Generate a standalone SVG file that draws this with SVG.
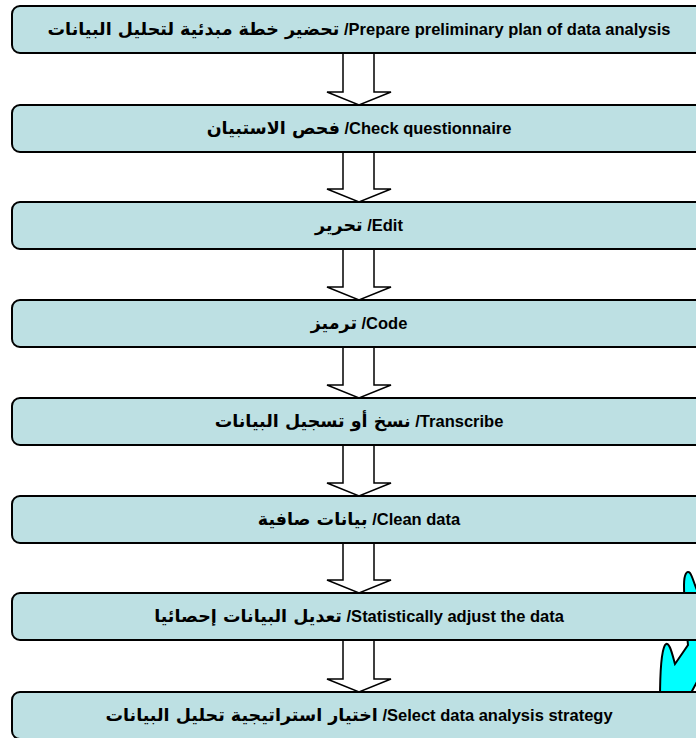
<svg xmlns="http://www.w3.org/2000/svg" width="696" height="738" viewBox="0 0 696 738">
<style>
.box{fill:#BDE0E3;stroke:#000;stroke-width:2}
.arr{fill:#fff;stroke:#000;stroke-width:1.5;stroke-linejoin:miter}
.lbl{font-family:"Liberation Sans","DejaVu Sans",sans-serif;font-weight:bold;font-size:16.5px;fill:#000;text-anchor:middle}
.ar{font-family:"DejaVu Sans",sans-serif;font-size:17.5px}
.blob{fill:#00FFFF;stroke:#000;stroke-width:2}
</style>
<rect width="696" height="738" fill="#fff"/>
<g id="decor">
<path class="blob" d="M660,700 C660,680 661,652 665,645 C669,640 672,653 675,664 L688,645 C686,625 684,600 684,585 C684,574 687,570 690,573 C693,577 695,588 700,596 L700,676 L691,693 Z"/>
</g>
<g id="connectors">
<polygon class="arr" points="343,52 374,52 374,92 391,92 359,105 327,92 343,92"/>
<polygon class="arr" points="343,151 374,151 374,189 391,189 359,202 327,189 343,189"/>
<polygon class="arr" points="343,248 374,248 374,287 391,287 359,300 327,287 343,287"/>
<polygon class="arr" points="343,346 374,346 374,385 391,385 359,398 327,385 343,385"/>
<polygon class="arr" points="343,444 374,444 374,483 391,483 359,496 327,483 343,483"/>
<polygon class="arr" points="343,542 374,542 374,580 391,580 359,593 327,580 343,580"/>
<polygon class="arr" points="343,639 374,639 374,679 391,679 359,692 327,679 343,679"/>
</g>
<g id="n1"><rect class="box" x="12" y="6" width="700" height="47" rx="8"/><text class="lbl" x="359" y="35"><tspan class="ar">تحضير خطة مبدئية لتحليل البيانات</tspan> /Prepare preliminary plan of data analysis</text></g>
<g id="n2"><rect class="box" x="12" y="105" width="700" height="47" rx="8"/><text class="lbl" x="359" y="134"><tspan class="ar">فحص الاستبيان</tspan> /Check questionnaire</text></g>
<g id="n3"><rect class="box" x="12" y="202" width="700" height="47" rx="8"/><text class="lbl" x="359" y="231"><tspan class="ar">تحرير</tspan> /Edit</text></g>
<g id="n4"><rect class="box" x="12" y="300" width="700" height="47" rx="8"/><text class="lbl" x="359" y="329"><tspan class="ar">ترميز</tspan> /Code</text></g>
<g id="n5"><rect class="box" x="12" y="398" width="700" height="47" rx="8"/><text class="lbl" x="359" y="427"><tspan class="ar">نسخ أو تسجيل البيانات</tspan> /Transcribe</text></g>
<g id="n6"><rect class="box" x="12" y="496" width="700" height="47" rx="8"/><text class="lbl" x="359" y="525"><tspan class="ar">بيانات صافية</tspan> /Clean data</text></g>
<g id="n7"><rect class="box" x="12" y="593" width="700" height="47" rx="8"/><text class="lbl" x="359" y="622"><tspan class="ar">تعديل البيانات إحصائيا</tspan> /Statistically adjust the data</text></g>
<g id="n8"><rect class="box" x="12" y="692" width="700" height="47" rx="8"/><text class="lbl" x="359" y="721"><tspan class="ar">اختيار استراتيجية تحليل البيانات</tspan> /Select data analysis strategy</text></g>
</svg>
